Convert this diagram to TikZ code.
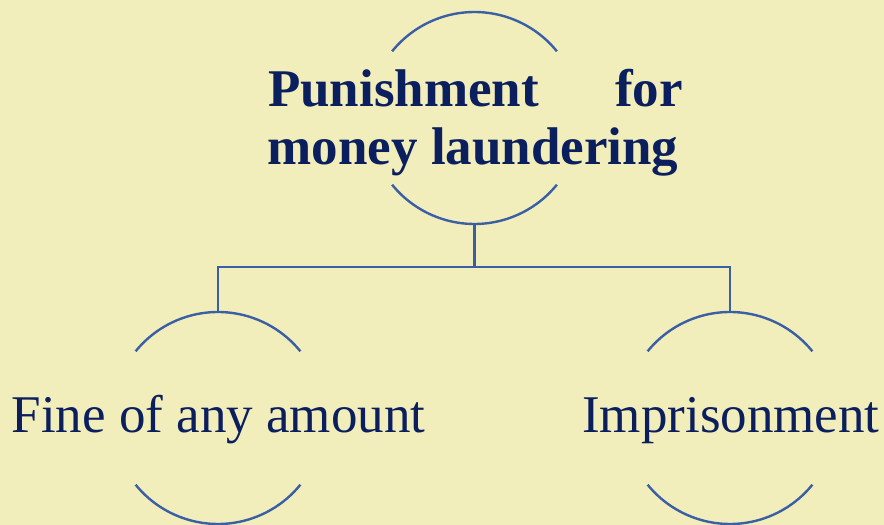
\documentclass[tikz,border=0pt]{standalone}
\usepackage{fontspec}
\setmainfont{Liberation Serif}
\definecolor{paper}{HTML}{F2EEBB}
\definecolor{wire}{HTML}{3A5FA5}
\definecolor{ink}{HTML}{0B1F5E}
\begin{document}
\begin{tikzpicture}[x=1pt,y=1pt,
  hub/.style={circle,minimum size=212pt,inner sep=0pt,outer sep=0pt},
  rim/.style={draw=wire,line width=2.4pt},
  link/.style={draw=wire,line width=2.4pt},
  label/.style={anchor=base,inner sep=0pt,text=ink,font=\fontsize{53}{58}\selectfont},
  boldlabel/.style={label,font=\fontsize{53}{58}\selectfont\bfseries}]
  \fill[paper] (0,0) rectangle (884,525);
  \useasboundingbox (0,0) rectangle (884,525);

  % circle outlines (only the upper and lower arcs are drawn)
  \node[hub] (top)   at (474.5,407) {};
  \node[hub] (left)  at (218,107) {};
  \node[hub] (right) at (730,107) {};
  \foreach \n in {top,left,right}{
    \draw[rim] (\n.141) arc[start angle=141,end angle=39,radius=106pt];
    \draw[rim] (\n.219) arc[start angle=219,end angle=321,radius=106pt];
  }

  % labels
  \node[boldlabel] (t1) at (475.5,418.3) {\makebox[415pt]{Punishment\hfill for}};
  \node[boldlabel] (t2) at (473,360) {money laundering};
  \node[label] (fine) at (218.5,92) {Fine of any amount};
  \node[label] (jail) at (731,92) {Imprisonment};

  % tree connectors
  \coordinate (bus) at (474.5,258);
  \draw[link] (top.south) -- (bus) -| (left.north);
  \draw[link] (bus) -| (right.north);
\end{tikzpicture}
\end{document}
